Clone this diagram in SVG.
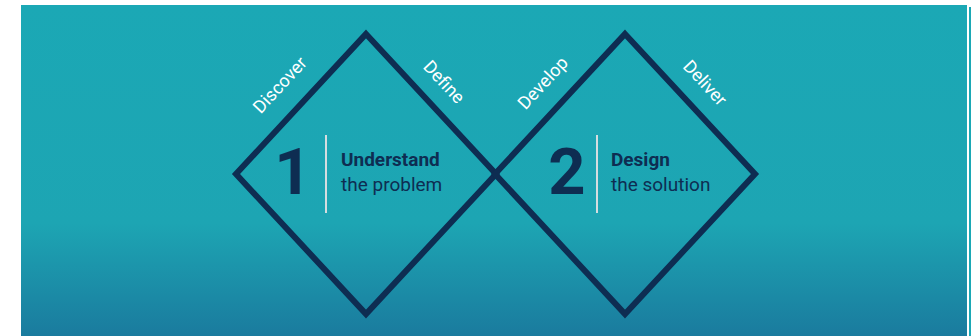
<svg xmlns="http://www.w3.org/2000/svg" width="974" height="336" viewBox="0 0 974 336">
  <defs>
    <linearGradient id="bg" x1="0" y1="5" x2="0" y2="336" gradientUnits="userSpaceOnUse">
      <stop offset="0" stop-color="#1ba8b5"/>
      <stop offset="0.66" stop-color="#1da5b3"/>
      <stop offset="1" stop-color="#1a7b9e"/>
    </linearGradient>
    <style>
      .diamond { fill: none; stroke: #0e2d52; stroke-width: 6; stroke-linejoin: miter; }
      .phase { font-family: Roboto, "Liberation Sans", sans-serif; font-size: 18px; fill: #ffffff; text-anchor: middle; }
      .num { font-family: Roboto, "Liberation Sans", sans-serif; font-size: 65px; font-weight: 700; fill: #0e2d52; text-anchor: middle; }
      .title { font-family: Roboto, "Liberation Sans", sans-serif; font-size: 19px; font-weight: 700; fill: #0e2d52; }
      .sub { font-family: Roboto, "Liberation Sans", sans-serif; font-size: 19px; font-weight: 400; fill: #0e2d52; }
      .divider { stroke: #d5dde0; stroke-width: 2; }
    </style>
  </defs>
  <rect x="0" y="0" width="974" height="336" fill="#ffffff"/>
  <rect x="21" y="5" width="946" height="331" fill="url(#bg)"/>
  <rect x="969" y="7" width="2" height="329" fill="#1ba8b5"/>

  <g id="diamond-1">
    <polygon class="diamond" points="366,34 496,174 366,314 236,174"/>
    <text class="phase" transform="translate(280,85) rotate(-47)" x="0" y="6">Discover</text>
    <text class="phase" transform="translate(444,82) rotate(47)" x="0" y="6">Define</text>
    <text class="num" x="293" y="194">1</text>
    <line class="divider" x1="326" y1="135" x2="326" y2="213"/>
    <text class="title" x="341" y="166">Understand</text>
    <text class="sub" x="341" y="191">the problem</text>
  </g>

  <g id="diamond-2">
    <polygon class="diamond" points="625,34 755,174 625,314 495,174"/>
    <text class="phase" transform="translate(543,83) rotate(-47)" x="0" y="6">Develop</text>
    <text class="phase" transform="translate(705,83) rotate(47)" x="0" y="6">Deliver</text>
    <text class="num" x="567" y="194">2</text>
    <line class="divider" x1="597" y1="135" x2="597" y2="213"/>
    <text class="title" x="611" y="166">Design</text>
    <text class="sub" x="611" y="191">the solution</text>
  </g>

  <g id="connectors"/>
</svg>
